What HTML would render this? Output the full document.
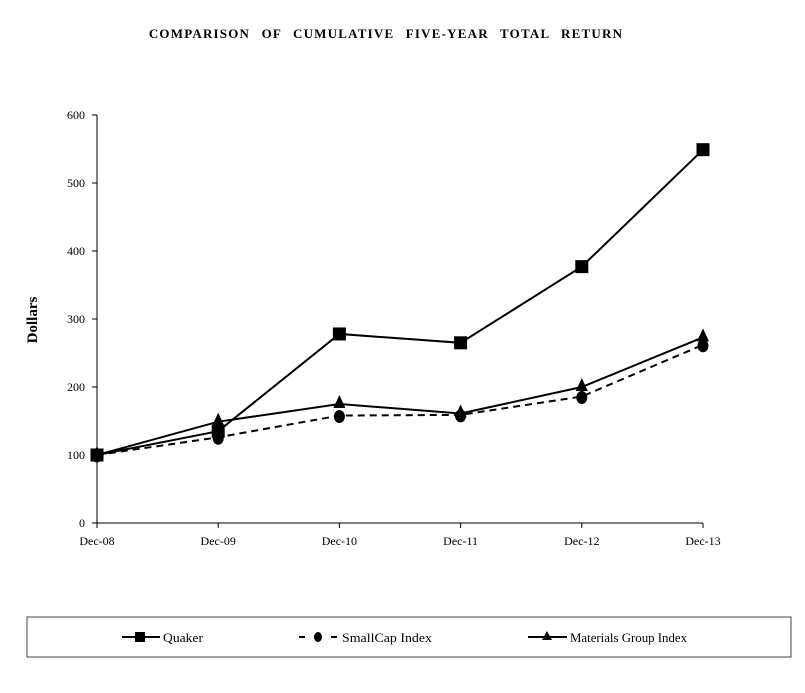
<!DOCTYPE html>
<html><head><meta charset="utf-8"><style>
body{margin:0;background:#fff;font-family:"Liberation Serif",serif;}
</style></head><body>
<svg width="805" height="688" viewBox="0 0 805 688">
<text x="386" y="38" text-anchor="middle" font-size="13" font-weight="bold" letter-spacing="1.2" word-spacing="7">COMPARISON OF CUMULATIVE FIVE-YEAR TOTAL RETURN</text>
<text transform="translate(37,320) rotate(-90)" text-anchor="middle" font-size="15" font-weight="bold">Dollars</text>
<g id="axes"></g>
<g id="series"></g>
<rect x="27" y="617" width="764" height="40" fill="none" stroke="#444" stroke-width="1"/>
<g>
<line x1="122" y1="637" x2="160" y2="637" stroke="#000" stroke-width="2"/><rect x="135" y="632" width="10" height="10" fill="#000"/>
<text x="163" y="642" font-size="13" textLength="40" lengthAdjust="spacingAndGlyphs">Quaker</text></g>
<g>
<line x1="299" y1="637" x2="337" y2="637" stroke="#000" stroke-width="2" stroke-dasharray="6,26"/><ellipse cx="318" cy="637" rx="4" ry="5" fill="#000"/>
<text x="342" y="642" font-size="13" textLength="90" lengthAdjust="spacingAndGlyphs">SmallCap Index</text></g>
<g>
<line x1="528" y1="637" x2="567" y2="637" stroke="#000" stroke-width="2"/><polygon points="547,631 552,640 542,640" fill="#000"/>
<text x="570" y="642" font-size="13" textLength="117" lengthAdjust="spacingAndGlyphs">Materials Group Index</text></g>
</svg>
<script>
const categories=["Dec-08","Dec-09","Dec-10","Dec-11","Dec-12","Dec-13"];
const quaker=[100,135,278,265,377,549];
const smallcap=[100,126,158,159,186,262];
const materials=[100,149,175,161,200,273];
const yTicks=[0,100,200,300,400,500,600];
const NS="http://www.w3.org/2000/svg";
const x=i=>97+i*(703-97)/(categories.length-1);
const y=v=>523-v*(523-115)/600;
function mk(t,a,p){const e=document.createElementNS(NS,t);for(const k in a)e.setAttribute(k,a[k]);p.appendChild(e);return e;}
const axes=document.getElementById('axes');
let ya=mk('line',{x1:97,y1:115,x2:97,y2:523,stroke:'#000','stroke-width':1},axes);


let xa=mk('line',{x1:97,y1:523,x2:703,y2:523,stroke:'#000','stroke-width':1},axes);


yTicks.forEach(v=>{mk('line',{x1:92,y1:y(v),x2:97,y2:y(v),stroke:'#000'},axes);
const t=mk('text',{x:85,y:y(v)+4,'text-anchor':'end','font-size':12},axes);t.textContent=v;

});
categories.forEach((c,i)=>{mk('line',{x1:x(i),y1:523,x2:x(i),y2:528,stroke:'#000'},axes);
const t=mk('text',{x:x(i),y:545,'text-anchor':'middle','font-size':12},axes);t.textContent=c;

});
const sg=document.getElementById('series');
function line(d,name,dash){const p=mk('polyline',{points:d.map((v,i)=>x(i)+','+y(v)).join(' '),fill:'none',stroke:'#000','stroke-width':2,'stroke-dasharray':dash||'none'},sg);

}
line(smallcap,'smallcap','7,5');
line(materials,'materials');
line(quaker,'quaker');
smallcap.forEach((v,i)=>{const e=mk('ellipse',{cx:x(i),cy:y(v)+1,rx:5.5,ry:6.5,fill:'#000'},sg);

});
materials.forEach((v,i)=>{const X=x(i),Y=y(v);const e=mk('polygon',{points:`${X},${Y-9} ${X+6},${Y+4} ${X-6},${Y+4}`,fill:'#000'},sg);

});
quaker.forEach((v,i)=>{const e=mk('rect',{x:x(i)-6.5,y:y(v)-6.5,width:13,height:13,fill:'#000'},sg);

});
</script>
</body></html>
